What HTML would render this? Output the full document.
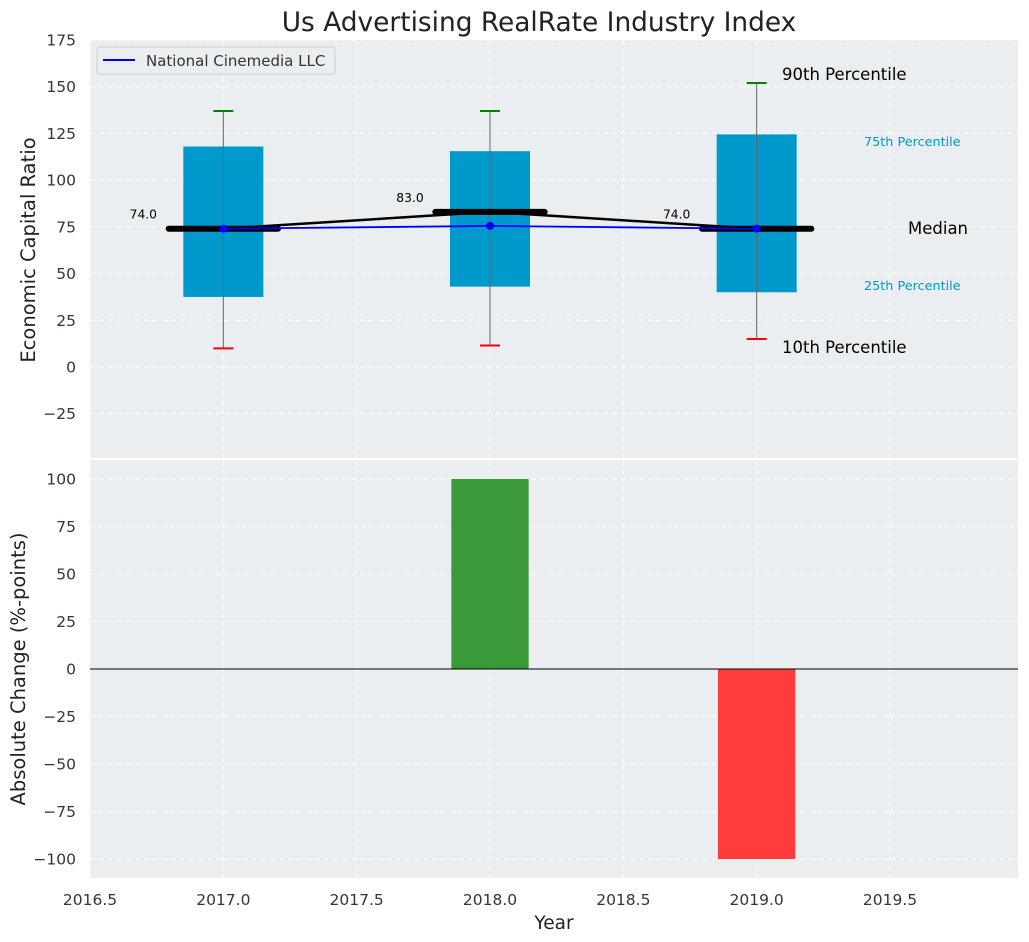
<!DOCTYPE html>
<html><head><meta charset="utf-8"><style>
body{margin:0;background:#fff;}
svg{display:block;font-family:"DejaVu Sans","Liberation Sans",sans-serif;}
</style></head><body>
<svg id="chart" width="1029" height="942"></svg>
<script>
const years=[2017,2018,2019];
const p10=[10,11.5,15];
const p25=[37.5,43,40];
const medians=[74,83,74];
const p75=[118,115.5,124.5];
const p90=[137,137,152];
const companyValues=[74,75.5,74];
const changes=[0,100,-100];
const xTicks=[2016.5,2017,2017.5,2018,2018.5,2019,2019.5];
const yTopTicks=[-25,0,25,50,75,100,125,150,175];
const yBotTicks=[-100,-75,-50,-25,0,25,50,75,100];

const NS="http://www.w3.org/2000/svg";
const svg=document.getElementById('chart');
function el(tag,attrs,parent){const e=document.createElementNS(NS,tag);for(const k in attrs)e.setAttribute(k,attrs[k]);(parent||svg).appendChild(e);return e;}
const L=90,R=1018;
const x=v=>L+(v-2016.5)/(2019.98-2016.5)*(R-L);
const T1=40,B1=458,yt=v=>T1+(175-v)/(175+48.7)*(B1-T1);
const T2=460,B2=878,yb=v=>T2+(110-v)/220*(B2-T2);

let bg=el('rect',{x:L,y:T1,width:R-L,height:B1-T1,fill:'#eaeef0'});

let bg2=el('rect',{x:L,y:T2,width:R-L,height:B2-T2,fill:'#eaeef0'});


xTicks.forEach(t=>{
  el('line',{x1:x(t),x2:x(t),y1:T1,y2:B1,stroke:'#fff','stroke-dasharray':'5,4','stroke-width':1});
  el('line',{x1:x(t),x2:x(t),y1:T2,y2:B2,stroke:'#fff','stroke-dasharray':'5,4','stroke-width':1});
  const tx=el('text',{x:x(t),y:905,'text-anchor':'middle','font-size':15.5,fill:'#334'});tx.textContent=t.toFixed(1);
  
});
yTopTicks.forEach(t=>{
  el('line',{x1:L,x2:R,y1:yt(t),y2:yt(t),stroke:'#fff','stroke-dasharray':'5,4'});
  const tx=el('text',{x:76,y:yt(t)+5.5,'text-anchor':'end','font-size':15.5,fill:'#334'});tx.textContent=t<0?'\u2212'+(-t):t;
  
});
yBotTicks.forEach(t=>{
  el('line',{x1:L,x2:R,y1:yb(t),y2:yb(t),stroke:'#fff','stroke-dasharray':'5,4'});
  const tx=el('text',{x:76,y:yb(t)+5.5,'text-anchor':'end','font-size':15.5,fill:'#334'});tx.textContent=t<0?'\u2212'+(-t):t;
  
});

years.forEach((yr,i)=>{
  const bx=el('rect',{x:x(yr-0.15),y:yt(p75[i]),width:x(yr+0.15)-x(yr-0.15),height:yt(p25[i])-yt(p75[i]),fill:'#0099cc'});
  
  el('line',{x1:x(yr),x2:x(yr),y1:yt(p90[i]),y2:yt(p10[i]),stroke:'#666','stroke-width':1});
  el('line',{x1:x(yr)-10,x2:x(yr)+10,y1:yt(p90[i]),y2:yt(p90[i]),stroke:'green','stroke-width':2});
  el('line',{x1:x(yr)-10,x2:x(yr)+10,y1:yt(p10[i]),y2:yt(p10[i]),stroke:'red','stroke-width':2});
  const m=el('line',{x1:x(yr-0.205),x2:x(yr+0.205),y1:yt(medians[i]),y2:yt(medians[i]),stroke:'#000','stroke-width':6,'stroke-linecap':'round'});
  
  const lb=el('text',{x:x(yr-0.3),y:yt(medians[i])-10,'text-anchor':'middle','font-size':12.3,fill:'#000'});lb.textContent=medians[i].toFixed(1);
  
});
const medLine=el('polyline',{points:years.map((yr,i)=>x(yr)+','+yt(medians[i])).join(' '),fill:'none',stroke:'#000','stroke-width':2.5});

const cl=el('polyline',{points:years.map((yr,i)=>x(yr)+','+yt(companyValues[i])).join(' '),fill:'none',stroke:'blue','stroke-width':1.8});

years.forEach((yr,i)=>{const c=el('circle',{cx:x(yr),cy:yt(companyValues[i]),r:4,fill:'blue'});
  });

const ann=[['90th Percentile',782,80,16.5,'#000'],['75th Percentile',864,146,12.8,'#0099cc'],['Median',908,234,16.5,'#000'],['25th Percentile',864,290,12.8,'#0099cc'],['10th Percentile',782,353,16.5,'#000']];
ann.forEach(a=>{const t=el('text',{x:a[1],y:a[2],'font-size':a[3],fill:a[4]});t.textContent=a[0];
  });

const lg=el('g',{});
el('rect',{x:97,y:47,width:238,height:27,rx:3,fill:'#eaeef0',stroke:'#ccc'},lg);
el('line',{x1:103,x2:135,y1:60,y2:60,stroke:'blue','stroke-width':2},lg);
const lt=el('text',{x:146,y:66,'font-size':15,fill:'#333'},lg);lt.textContent='National Cinemedia LLC';

years.forEach((yr,i)=>{
  const v=changes[i];const y0=yb(Math.max(v,0)),y1=yb(Math.min(v,0));
  const b=el('rect',{x:x(yr-0.145),y:y0,width:x(yr+0.145)-x(yr-0.145),height:y1-y0,fill:v>=0?'#3a9a3a':'#ff3b3b'});
  
});
el('line',{x1:L,x2:R,y1:yb(0),y2:yb(0),stroke:'#000','stroke-width':1});

const ti=el('text',{x:539,y:31,'text-anchor':'middle','font-size':26.4,fill:'#222'});ti.textContent='Us Advertising RealRate Industry Index';

const xl=el('text',{x:554,y:929,'text-anchor':'middle','font-size':18.5,fill:'#222'});xl.textContent='Year';

const y1l=el('text',{x:0,y:0,'text-anchor':'middle','font-size':19.5,fill:'#222',transform:'translate(35,250) rotate(-90)'});y1l.textContent='Economic Capital Ratio';

const y2l=el('text',{x:0,y:0,'text-anchor':'middle','font-size':19.5,fill:'#222',transform:'translate(25,669) rotate(-90)'});y2l.textContent='Absolute Change (%-points)';

</script>
</body></html>
